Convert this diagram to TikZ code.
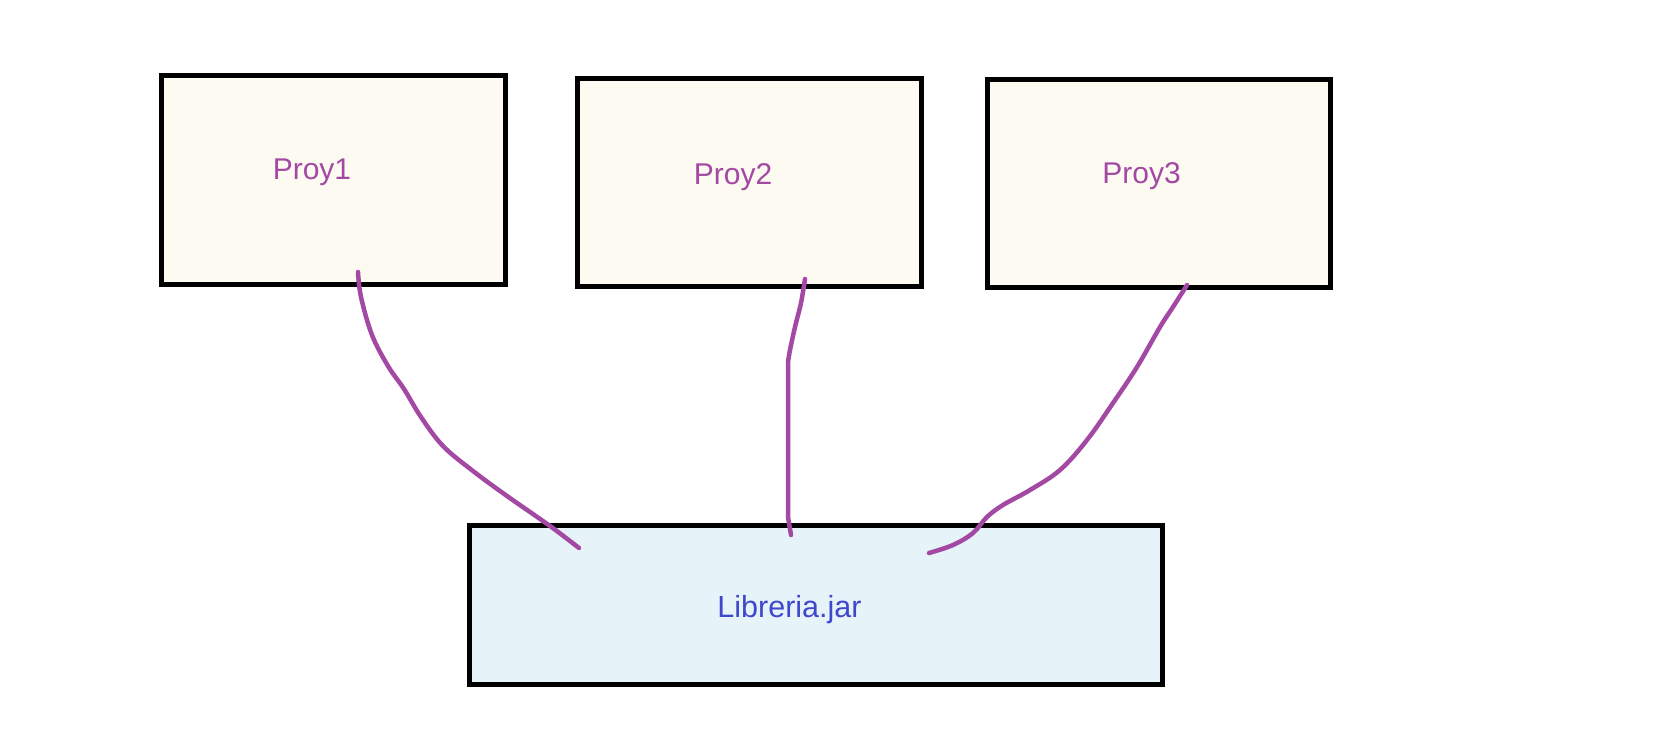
\documentclass[tikz,border=0pt]{standalone}
\usepackage{fontspec}
\setmainfont{Liberation Sans}
\usetikzlibrary{calc}
\definecolor{cream}{HTML}{FDFAF1}
\definecolor{libblue}{HTML}{E6F3F9}
\definecolor{penpurple}{HTML}{A349A4}
\definecolor{txtblue}{HTML}{3F48CC}
\tikzset{
  projbox/.style={draw=black, line width=5pt, fill=cream, rectangle, inner sep=0pt},
  libbox/.style={draw=black, line width=5pt, fill=libblue, rectangle, inner sep=0pt},
  projtext/.style={text=penpurple, font=\fontsize{30}{34}\selectfont, inner sep=0pt, anchor=base},
  libtext/.style={text=txtblue, font=\fontsize{30.5}{35}\selectfont, inner sep=0pt, anchor=base},
  link/.style={draw=penpurple, line width=4.5pt, line cap=round, line join=round}
}
\begin{document}
\begin{tikzpicture}[x=1pt, y=-1pt]
\fill[white] (0,0) rectangle (1676,752);
\useasboundingbox (0,0) rectangle (1676,752);

\node[projbox, minimum width=344pt, minimum height=209pt] (p1) at (333.5,180) {};
\node[projbox, minimum width=344pt, minimum height=208pt] (p2) at (749.5,182.5) {};
\node[projbox, minimum width=343pt, minimum height=208pt] (p3) at (1159,183.5) {};
\node[libbox, minimum width=693pt, minimum height=159pt] (lib) at (816,605) {};

\node[projtext] (t1) at (312,179) {Proy1};
\node[projtext] (t2) at (733,184) {Proy2};
\node[projtext] (t3) at (1141.5,183) {Proy3};
\node[libtext] (tl) at (789.5,617) {Libreria.jar};

\coordinate (a1) at ($(p1.south)+(24.5,-15)$);
\coordinate (b1) at ($(lib.north)+(-237,25)$);
\coordinate (a2) at ($(p2.south)+(55.5,-10)$);
\coordinate (b2) at ($(lib.north)+(-25,12)$);
\coordinate (a3) at ($(p3.south)+(28,-5)$);
\coordinate (b3) at ($(lib.north)+(113,30)$);

\draw[link] plot[smooth, tension=0.6] coordinates {(a1) (361,297) (372,335) (388,366) (404,389) (421,417) (443,446) (473,471) (507,496) (550,526) (b1)};
\draw[link] plot[smooth, tension=0.5] coordinates {(a2) (801,303) (795,327) (790,350) (788,362)} -- (788,517) -- (b2);
\draw[link] plot[smooth, tension=0.6] coordinates {(a3) (1173,307) (1160,327) (1137,367) (1113,403) (1087,440) (1060,470) (1030,490) (1003,505) (987,517) (973,533) (953,545) (b3)};
\end{tikzpicture}
\end{document}
